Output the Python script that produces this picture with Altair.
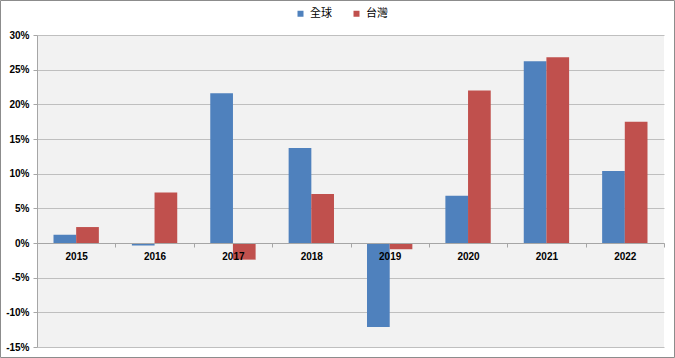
import altair as alt
import pandas as pd

years = ["2015", "2016", "2017", "2018", "2019", "2020", "2021", "2022"]
series_names = ["全球", "台灣"]
global_vals = [1.2, -0.35, 21.6, 13.7, -12.1, 6.8, 26.2, 10.4]
taiwan_vals = [2.3, 7.3, -2.4, 7.05, -0.9, 22.0, 26.8, 17.5]
colors = ["#4f81bd", "#c0504d"]
y_ticks = [-15, -10, -5, 0, 5, 10, 15, 20, 25, 30]

rows = []
for i, y in enumerate(years):
    rows.append({"year": y, "series": series_names[0], "value": global_vals[i]})
    rows.append({"year": y, "series": series_names[1], "value": taiwan_vals[i]})
df = pd.DataFrame(rows)

W, H = 627, 312

bars = alt.Chart(df).mark_bar(size=22.7).encode(
    x=alt.X("year:N", sort=years,
            scale=alt.Scale(paddingInner=0, paddingOuter=0),
            axis=alt.Axis(title=None, labelAngle=0, orient="bottom", offset=-104,
                          tickBand="extent", tickSize=4, tickColor="#a6a6a6",
                          domainColor="#a6a6a6", labelFont="Liberation Sans",
                          labelFontWeight="bold", labelFontSize=10, labelColor="#000000",
                          labelPadding=4, zindex=1, grid=False)),
    xOffset=alt.XOffset("series:N", sort=series_names,
                        scale=alt.Scale(paddingInner=0, paddingOuter=0.73)),
    y=alt.Y("value:Q",
            scale=alt.Scale(domain=[-15, 30], nice=False, zero=False),
            axis=alt.Axis(title=None, values=y_ticks, labelExpr="datum.value + '%'",
                          tickSize=4, tickColor="#a6a6a6", domainColor="#a6a6a6",
                          gridColor="#bfbfbf", labelFont="Liberation Sans",
                          labelFontWeight="bold", labelFontSize=10, labelColor="#000000",
                          labelPadding=4)),
    color=alt.Color("series:N", sort=series_names,
                    scale=alt.Scale(domain=series_names, range=colors),
                    legend=alt.Legend(title=None, orient="none", direction="horizontal",
                                      legendX=258, legendY=-27, symbolType="square",
                                      symbolSize=36, symbolStrokeWidth=0,
                                      labelFont="Noto Sans CJK TC", labelFontSize=11,
                                      labelColor="#000000", labelOffset=4,
                                      columnPadding=19)),
)

frame = alt.Chart(pd.DataFrame({"a": [0]})).mark_rect(
    fill=None, stroke="#8c8c8c", strokeWidth=1
).encode(
    x=alt.value(-36.5), x2=alt.value(637.5), y=alt.value(-34.5), y2=alt.value(322.5)
)

chart = alt.layer(bars, frame).properties(
    width=W, height=H,
    autosize=alt.AutoSizeParams(type="none"),
    padding={"left": 37, "top": 35, "right": 11, "bottom": 11},
    background="white",
).configure_view(fill="#f2f2f2", stroke=None)

chart.save("out.html", embed_options={"renderer": "svg", "actions": False})
